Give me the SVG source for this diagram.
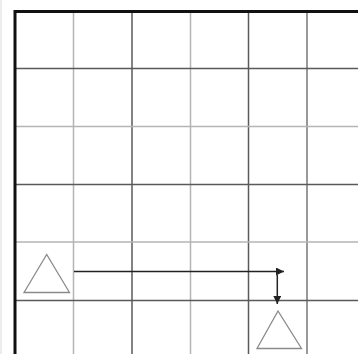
<svg xmlns="http://www.w3.org/2000/svg" width="358" height="354" viewBox="0 0 358 354">
<style>
.light{stroke:#b4b4b4;stroke-width:1.5;fill:none}
.dark{stroke:#5a5a5a;stroke-width:1.5;fill:none}
.border{stroke:#111;stroke-width:3;fill:none}
.tri{stroke:#8a8a8a;stroke-width:1.3;fill:#fff}
.conn{stroke:#222;stroke-width:1.5;fill:none}
</style>
<defs>
<marker id="ah" viewBox="0 0 10 10" refX="10" refY="5" markerWidth="11" markerHeight="8" markerUnits="userSpaceOnUse" orient="auto">
<path d="M0,0 L10,5 L0,10 Z" fill="#222"/>
</marker>
</defs>
<rect width="358" height="354" fill="#fff"/>
<g id="grid">
<line class="light" x1="1" y1="0" x2="1" y2="354" style="stroke:#e6e6e6"/>
<line class="light" x1="73.5" y1="11" x2="73.5" y2="354"/>
<line class="dark" x1="132" y1="11" x2="132" y2="354"/>
<line class="light" x1="190.5" y1="11" x2="190.5" y2="354"/>
<line class="dark" x1="248.5" y1="11" x2="248.5" y2="354"/>
<line class="dark" x1="307" y1="11" x2="307" y2="354" style="stroke:#777"/>
<line class="dark" x1="15" y1="68.5" x2="358" y2="68.5"/>
<line class="light" x1="15" y1="126.5" x2="358" y2="126.5"/>
<line class="dark" x1="15" y1="184.5" x2="358" y2="184.5"/>
<line class="light" x1="15" y1="242" x2="358" y2="242"/>
<line class="dark" x1="15" y1="300.5" x2="358" y2="300.5"/>
<path class="border" d="M15,354 V11.5 H358"/>
</g>
<g id="node1"><polygon class="tri" points="46.7,254.5 24,292.5 69.5,292.5"/></g>
<g id="node2"><polygon class="tri" points="278,311 257,348.5 301.5,348.5"/></g>
<g id="connectors">
<line class="conn" x1="74" y1="271.5" x2="284" y2="271.5" marker-end="url(#ah)"/>
<line class="conn" x1="277.3" y1="275" x2="277.3" y2="304" marker-end="url(#ah)"/>
</g>
</svg>
